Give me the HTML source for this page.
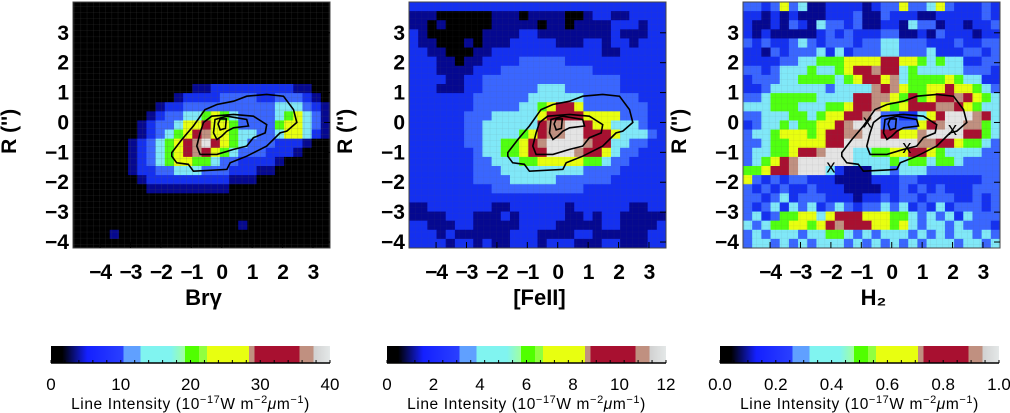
<!DOCTYPE html>
<html><head><meta charset="utf-8">
<style>
body{margin:0;background:#fff;width:1010px;height:413px;overflow:hidden;font-family:"Liberation Sans",sans-serif}
svg{position:absolute;left:0;top:0}
</style></head>
<body>
<svg id="chart" width="1010" height="413" xmlns="http://www.w3.org/2000/svg">
<defs>
<linearGradient id="cb" x1="0" x2="1" y1="0" y2="0">
<stop offset="0" stop-color="#000"/><stop offset="0.04" stop-color="#000"/>
<stop offset="0.13" stop-color="#1420ff"/><stop offset="0.26" stop-color="#2a40ff"/>
<stop offset="0.26" stop-color="#60a0ff"/><stop offset="0.32" stop-color="#60a0ff"/>
<stop offset="0.32" stop-color="#80f4f0"/><stop offset="0.43" stop-color="#80f4f0"/>
<stop offset="0.48" stop-color="#a0ffa0"/><stop offset="0.48" stop-color="#50ff00"/>
<stop offset="0.53" stop-color="#50ff00"/><stop offset="0.53" stop-color="#90ff40"/>
<stop offset="0.56" stop-color="#90ff40"/><stop offset="0.56" stop-color="#e8ff10"/>
<stop offset="0.71" stop-color="#e8ff10"/><stop offset="0.71" stop-color="#c09080"/>
<stop offset="0.73" stop-color="#c09080"/><stop offset="0.73" stop-color="#a81030"/>
<stop offset="0.89" stop-color="#a81030"/><stop offset="0.89" stop-color="#c09080"/>
<stop offset="0.94" stop-color="#c09080"/><stop offset="0.94" stop-color="#d0d0d0"/>
<stop offset="1" stop-color="#e4e8e8"/>
</linearGradient>
<pattern id="grid" width="6.2" height="6.1" patternUnits="userSpaceOnUse">
<path d="M0 0H6.2M0 0V6.1" stroke="#555" stroke-width="0.5" fill="none"/>
</pattern>
</defs>
</svg>
<script>
// ---- data ----
const xTicks=[-4,-3,-2,-1,0,1,2,3];
const yTicks=[3,2,1,0,-1,-2,-3,-4];
const panelTitles=["Brγ","[FeII]","H₂"];
const cbarTicks=[["0","10","20","30","40"],["0","2","4","6","8","10","12"],["0.0","0.2","0.4","0.6","0.8","1.0"]];
const levelColors=["#000000","#050890","#1430f0","#3a66ff","#80e8f8","#50ff10","#e8ff10","#a81030","#c09080","#e4e4e4"];
const brgMap=["","","","","","","","","",
"00000000000001122222222211",
"000000000001222233332233321",
"0000000001223333333333444321",
"0000000012334456543333456431",
"0000000123346676653333566431",
"0000000123456786654433466421",
"000000123456789765433322210",
"000000123456787654333222100",
"00000012345665543322221000",
"0000001223344433322211000",
"000000012222222221110",
"000000001111111110",
"","","","0000000000000000001","000010",""];
const feMap=["2222222222222222222222222222",
"1110000001110111100122112222",
"1101000001111101101111222122",
"2100000011112211111111211122",
"2110001011122222111221221222",
"2211000112222222222221122222",
"2221101122223333322222222222",
"2221111222333333333322222222",
"2222112233333333333333322222",
"2221112233333344433333322222",
"2222222333333444444333333222",
"2222222333334456776333333322",
"2222223334444467777666633322",
"2222223344444478899766444322",
"2222223344445678899777644432",
"2222223344556789999877443322",
"2222222344556779998776433222",
"2222222334445566666554332222",
"2222222333444444444333322222",
"2222222333344444333333222222",
"2222222223333333333222222222",
"2222222222222222222222222222",
"1122222221122222212222221122",
"1111222111212222211212211111",
"2211122111112222111112211112",
"2221211111122211112211111122",
"2222122121122212221112211122"];
const h2Map=["3323634112222123363346322232",
"2212121112223113222112222232",
"2112132143323112214331221223",
"2121111123232223311213222122",
"3232234323332334433322232233",
"2213233342423334433342223323",
"2222334455566667766545442233",
"3323444544567787745444443332",
"2333445555456776845555654422",
"2234444443444487865566766543",
"3345555544447788657567787654",
"4445554445567786567778876544",
"3344455456677893322467999874",
"2344545566789993333678998854",
"3445666567788997766899997754",
"3345566667799999999887765543",
"3445567789994455667765444433",
"3456789999994444545545543333",
"5567789994211144344433333333",
"6323233222111122233222222233",
"3232322322211112232323222333",
"3323423332221223233233322323",
"3234243423432334342324233323",
"3423556646777666554343424333",
"4345566567877766564344343332",
"3434443445543434443434344343",
"3443434344434343434344434434"];
const contourOuter=[[-1.64,-1.01],[-1.31,-0.57],[-0.93,-0.12],[-0.55,0.43],[-0.16,0.60],[0.39,0.71],[0.82,0.88],[1.48,0.94],[2.03,0.88],[2.36,0.43],[2.47,0],[2.14,-0.29],[1.92,-0.35],[1.48,-0.79],[0.82,-1.13],[0.28,-1.35],[0.17,-1.57],[-0.93,-1.63],[-1.10,-1.40],[-1.48,-1.35],[-1.64,-1.13]];
const contourMid=[[-0.71,-0.35],[-0.60,0],[-0.33,0.21],[0.39,0.27],[1.04,0.21],[1.48,-0.07],[1.43,-0.35],[1.04,-0.51],[0.82,-0.79],[0.39,-0.90],[-0.16,-1.07],[-0.71,-1.07],[-0.82,-0.79]];
const contourInner=[[-0.27,-0.35],[-0.22,0.10],[0.17,0.21],[0.82,0.10],[0.88,-0.12],[0.39,-0.18],[0.17,-0.29],[0.0,-0.46],[-0.16,-0.57]];
const contourCore=[[-0.12,-0.05],[-0.05,0.12],[0.15,0.12],[0.12,-0.2],[-0.05,-0.25]];
const h2Peaks=[[-2.0,-1.5],[-0.8,0.0],[0.5,-0.85],[2.0,-0.25]];

// ---- layout ----
const NS="http://www.w3.org/2000/svg";
const svg=document.getElementById('chart');
const plotLefts=[73,409,743], plotW=257, plotTop=2, plotH=246;
const XMIN=-4.89,XMAX=3.56,YMAX=4.03,YMIN=-4.2;
const cbarLefts=[51,387,720], cbarW=279, cbarTop=346, cbarH=17;
function mk(tag,attrs,parent){const e=document.createElementNS(NS,tag);for(const k in attrs)e.setAttribute(k,attrs[k]);(parent||svg).appendChild(e);return e;}
const maps=[brgMap,feMap,h2Map];
const NC=28,NR=27;
for(let p=0;p<3;p++){
  const L=plotLefts[p];
  const xs=d=>L+(d-XMIN)/(XMAX-XMIN)*plotW;
  const ys=d=>plotTop+(YMAX-d)/(YMAX-YMIN)*plotH;
  const g=mk('g',{});
  
  
  const bg=mk('rect',{x:L,y:plotTop,width:plotW,height:plotH,fill:levelColors[p==0?0:2]},g);
  
  
  const dx=(XMAX-XMIN)/NC, dy=(YMAX-YMIN)/NR;
  const m=maps[p];
  for(let r=0;r<NR;r++){
    const row=m[r]||"";
    for(let c=0;c<NC;c++){
      const v=c<row.length?+row[c]:(p==0?0:(p==1?2:3));
      const x0=XMIN+c*dx, y0=YMAX-r*dy;
      const cell=mk('rect',{x:xs(x0),y:ys(y0),width:xs(x0+dx)-xs(x0)+0.4,height:ys(y0-dy)-ys(y0)+0.4,fill:levelColors[v]},g);
      
      
    }
  }
  mk('rect',{x:L,y:plotTop,width:plotW,height:plotH,fill:'url(#grid)',opacity:p==0?0.6:0.25},g);
  [contourOuter,contourMid,contourInner,contourCore].forEach((poly,i)=>{
    const d='M'+poly.map(q=>xs(q[0]).toFixed(1)+' '+ys(q[1]).toFixed(1)).join('L')+'Z';
    const c=mk('path',{d:d,fill:'none',stroke:'#000','stroke-width':1.6},g);
    
    
  });
  if(p==2){h2Peaks.forEach(q=>{
    const t=mk('text',{x:xs(q[0]),y:ys(q[1])+5,'text-anchor':'middle','font-size':18,fill:'#000'},g);
    t.textContent='x';
    
    
  });}
  mk('rect',{x:L,y:plotTop,width:plotW,height:plotH,fill:'none',stroke:'#444','stroke-width':1},g);
  xTicks.forEach(t=>{
    mk('line',{x1:xs(t),x2:xs(t),y1:plotTop+plotH,y2:plotTop+plotH-6,stroke:'#000'},g);
    const tl=mk('text',{x:xs(t),y:279,'text-anchor':'middle','font-size':21,'font-weight':'bold','letter-spacing':'-1'},g);
    tl.textContent=(t<0?'\u2212':'')+Math.abs(t);
    
    
  });
  yTicks.forEach(t=>{
    mk('line',{x1:L+plotW,x2:L+plotW-6,y1:ys(t),y2:ys(t),stroke:'#000'},g);
    const tl=mk('text',{x:L-4,y:ys(t)+7,'text-anchor':'end','font-size':21,'font-weight':'bold'},g);
    tl.textContent=(t<0?'\u2212':'')+Math.abs(t);
    
    
  });
  const yt=mk('text',{x:0,y:0,transform:`translate(${L-57},${ys(-0.3)}) rotate(-90)`,'text-anchor':'middle','font-size':21,'font-weight':'bold'},g);
  yt.textContent="R ('')";
  
  
  const xt=mk('text',{x:xs(-0.6),y:305,'text-anchor':'middle','font-size':22,'font-weight':'bold'},g);
  xt.textContent=panelTitles[p];
  
  
  const CL=cbarLefts[p];
  const cg=mk('g',{});
  
  
  mk('rect',{x:CL,y:cbarTop,width:cbarW,height:cbarH,fill:'url(#cb)'},cg);
  mk('line',{x1:CL,x2:CL+cbarW,y1:cbarTop+cbarH,y2:cbarTop+cbarH,stroke:'#000','stroke-width':1.5},cg);
  for(let k=0;k<=20;k++){const x=CL+k*cbarW/20;mk('line',{x1:x,x2:x,y1:cbarTop+cbarH,y2:cbarTop+cbarH-3,stroke:'#000'},cg);}
  const lab=cbarTicks[p];
  lab.forEach((s,k)=>{
    const t=mk('text',{x:CL+k*cbarW/(lab.length-1),y:390,'text-anchor':'middle','font-size':17},cg);
    t.textContent=s;
    
    
  });
  const ct=mk('text',{x:CL+cbarW/2,y:409,'text-anchor':'middle','font-size':15.5,'letter-spacing':'0.6'},cg);
  ct.innerHTML='Line Intensity (10<tspan dy="-6" font-size="11">\u221217</tspan><tspan dy="6">W m</tspan><tspan dy="-6" font-size="11">\u22122</tspan><tspan dy="6" font-style="italic">\u03bc</tspan>m<tspan dy="-6" font-size="11">\u22121</tspan><tspan dy="6">)</tspan>';
  
  
}
</script>
</body></html>
